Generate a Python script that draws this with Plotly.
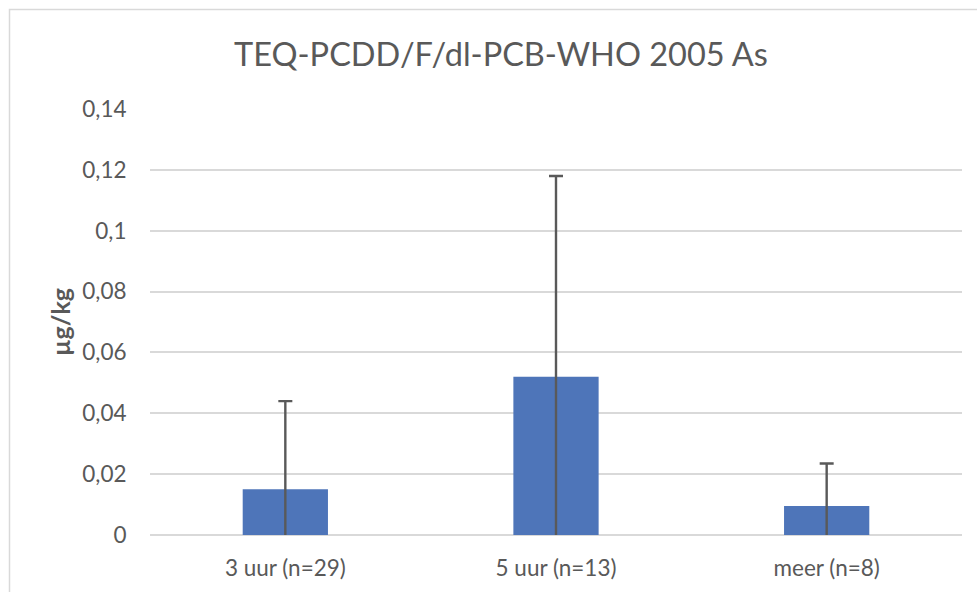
import plotly.graph_objects as go

categories = ["3 uur (n=29)", "5 uur (n=13)", "meer (n=8)"]
values = [0.015, 0.052, 0.0095]
errors = [0.029, 0.066, 0.014]
y_ticks = [0, 0.02, 0.04, 0.06, 0.08, 0.1, 0.12, 0.14]
y_tick_labels = ["0", "0,02", "0,04", "0,06", "0,08", "0,1", "0,12", "0,14"]

W, H = 977, 592
L, R, T, B = 150, 15, 109, 57
pw, ph = W - L - R, H - T - B

fig = go.Figure(go.Bar(
    x=categories, y=values,
    marker=dict(color="#4e75b9", line=dict(width=0)),
    error_y=dict(type="data", array=errors, symmetric=True,
                 color="#595959", thickness=2.4, width=7),
))

gray = "#595959"
fig.update_layout(
    width=W, height=H,
    margin=dict(l=L, r=R, t=T, b=B),
    paper_bgcolor="white", plot_bgcolor="white",
    bargap=0.685,
    showlegend=False,
    font=dict(family="Lato, sans-serif", color=gray),
    title=dict(text="TEQ-PCDD/F/dl-PCB-WHO 2005 As", x=501 / W, xanchor="center",
               y=1 - 55 / H, yanchor="middle",
               font=dict(size=32.5, color=gray, family="Lato, sans-serif")),
    xaxis=dict(showgrid=False, showline=False, zeroline=False, automargin=False,
               ticks="outside", ticklen=13, tickcolor="rgba(0,0,0,0)",
               tickfont=dict(size=22.5, color=gray)),
    yaxis=dict(range=[0, 0.14], tickvals=y_ticks, ticktext=y_tick_labels,
               automargin=False,
               showgrid=True, gridcolor="#d9d9d9", gridwidth=2,
               zeroline=True, zerolinecolor="#d9d9d9", zerolinewidth=2,
               showline=False,
               ticks="outside", ticklen=18, tickcolor="rgba(0,0,0,0)",
               tickfont=dict(size=22.5, color=gray),
               title=dict(text="<b>µg/kg</b>", standoff=4,
                          font=dict(size=25, color=gray))),
    shapes=[dict(type="rect", xref="paper", yref="paper",
                 x0=(9.5 - L) / pw, x1=(W + 20 - L) / pw,
                 y0=-(B + 20) / ph, y1=(H - B - 9.5) / ph,
                 line=dict(color="#d9d9d9", width=1.5), fillcolor="rgba(0,0,0,0)",
                 layer="below")],
)

fig.write_html(
    "out.html",
    config={"displayModeBar": False},
    post_script="document.body.style.margin='0';document.body.style.overflow='hidden';",
)
